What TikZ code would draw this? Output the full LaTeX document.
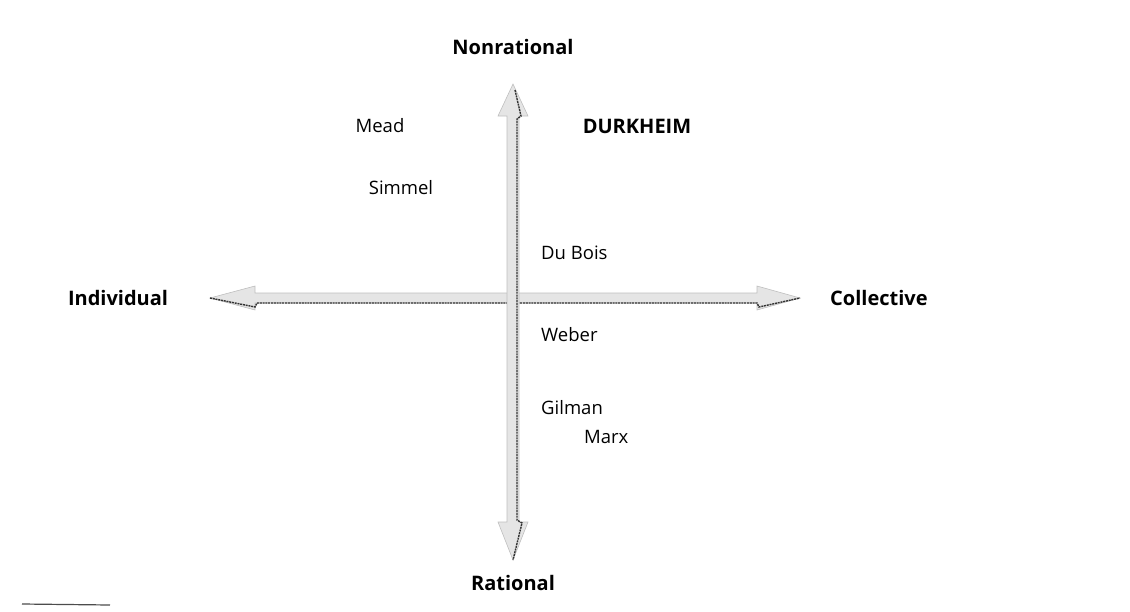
\documentclass[tikz,border=0pt]{standalone}
\usepackage{fontspec}
\setmainfont{Open Sans}
\begin{document}
\begin{tikzpicture}[x=1pt,y=-1pt,
  thinker/.style={inner sep=0pt, font=\fontsize{18.5}{22}\selectfont},
  leftthinker/.style={thinker, anchor=west},
  axisname/.style={inner sep=0pt, font=\fontsize{20}{24}\selectfont\bfseries},
  arrowbody/.style={fill=gray!20, draw=gray!50, line width=0.6pt, line join=miter},
  ridge/.style={draw=black!80, line width=1.4pt, dash pattern=on 2pt off 0.8pt},
]
\useasboundingbox (0,0) rectangle (1130,611);

% axis labels
\node[axisname] (nonrat) at (513,47)  {Nonrational};
\node[axisname] (rat)    at (513,583) {Rational};
\node[axisname] (indiv)  at (118,298) {Individual};
\node[axisname, anchor=west] (coll) at (830,298) {Collective};

% centre of the cross
\coordinate (o) at (513,298);

% horizontal double arrow
\coordinate (ltip) at (210,298);
\coordinate (rtip) at (800,298);
\filldraw[arrowbody] (ltip) -- (255,286) -- (255,293) -- (757,293) -- (757,286)
  -- (rtip) -- (757,310) -- (757,303) -- (255,303) -- (255,310) -- cycle;
\draw[ridge] (ltip) -- (255,307) -- (257,303) -- (757,303) -- (759,307) -- (rtip);

% vertical double arrow
\coordinate (ttip) at (513,84);
\coordinate (btip) at (513,560);
\filldraw[arrowbody] (ttip) -- (528,116) -- (519,116) -- (519,522) -- (528,522)
  -- (btip) -- (498,522) -- (507,522) -- (507,116) -- (498,116) -- cycle;
\draw[ridge] (515,90) -- (521,116) -- (517,119) -- (517,520) -- (522,523) -- (btip);

% theorists
\node[thinker] (mead)   at (380,126) {Mead};
\node[axisname] (durk)  at (637,126) {DURKHEIM};
\node[thinker] (simmel) at (401,188) {Simmel};
\node[leftthinker] (dubois) at (541,253) {Du Bois};
\node[leftthinker] (weber)  at (541,335) {Weber};
\node[leftthinker] (gilman) at (541,408) {Gilman};
\node[leftthinker] (marx)   at (584,437) {Marx};

% page edge at the lower left
\draw[black!70, line width=1.2pt] (22,604) -- (110,605);
\end{tikzpicture}
\end{document}
